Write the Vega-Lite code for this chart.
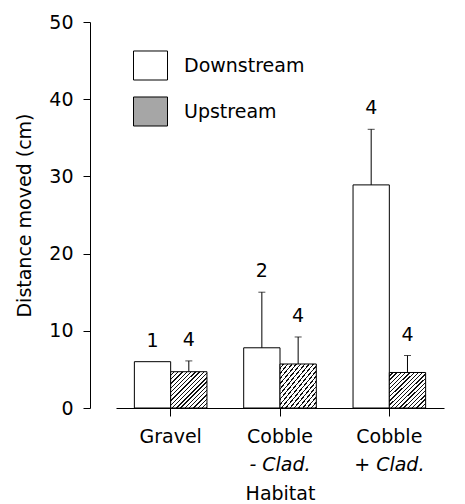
{
  "$schema": "https://vega.github.io/schema/vega-lite/v6.json",
  "autosize": "none",
  "width": 328,
  "height": 386,
  "padding": {"left": 116, "top": 22, "right": 21, "bottom": 96},
  "background": "white",
  "config": {
    "font": "DejaVu Sans",
    "view": {"stroke": null},
    "axis": {"grid": false, "domainColor": "black", "tickColor": "black", "labelColor": "black", "titleColor": "black", "labelFont": "DejaVu Sans", "titleFont": "DejaVu Sans", "labelFontSize": 19, "titleFontSize": 19, "titleFontWeight": "normal", "domainWidth": 1, "tickWidth": 1},
    "legend": {"orient": "none", "legendX": 17, "legendY": 26, "padding": 0, "symbolType": "M-1,-0.853H1V0.853H-1Z", "symbolSize": 1156, "symbolStrokeColor": "black", "symbolStrokeWidth": 1, "rowPadding": 11, "labelOffset": 16, "labelFont": "DejaVu Sans", "labelFontSize": 19, "labelColor": "black"}
  },
  "data": {"values": [
    {"habitat": "Gravel", "dir": "Downstream", "mean": 6.0, "upper": null, "n": 1},
    {"habitat": "Gravel", "dir": "Upstream", "mean": 4.7, "upper": 6.1, "n": 4},
    {"habitat": "Cobble - Clad.", "dir": "Downstream", "mean": 7.8, "upper": 15.0, "n": 2},
    {"habitat": "Cobble - Clad.", "dir": "Upstream", "mean": 5.7, "upper": 9.2, "n": 4},
    {"habitat": "Cobble + Clad.", "dir": "Downstream", "mean": 28.9, "upper": 36.1, "n": 4},
    {"habitat": "Cobble + Clad.", "dir": "Upstream", "mean": 4.6, "upper": 6.8, "n": 4}
  ]},
  "resolve": {"axis": {"x": "independent", "y": "independent"}},
  "layer": [
    {
      "mark": {"type": "bar", "stroke": "black", "strokeWidth": 1},
      "encoding": {
        "x": {"field": "habitat", "type": "nominal", "sort": ["Gravel", "Cobble - Clad.", "Cobble + Clad."],
          "scale": {"paddingInner": 0.336, "paddingOuter": 0.168},
          "axis": {"orient": "bottom", "title": null, "labelAngle": 0, "tickSize": 8, "labelPadding": 11, "labelExpr": "split(datum.value, ' ')[0]"}},
        "xOffset": {"field": "dir", "type": "nominal", "sort": ["Downstream", "Upstream"], "scale": {"paddingInner": 0, "paddingOuter": 0}},
        "y": {"field": "mean", "type": "quantitative", "scale": {"domain": [0, 50], "nice": false},
          "axis": {"values": [0, 10, 20, 30, 40, 50], "tickSize": 7, "labelPadding": 10, "offset": 26, "title": "Distance moved (cm)", "titlePadding": 14}},
        "fill": {"field": "dir", "type": "nominal",
          "scale": {"domain": ["Downstream", "Upstream"], "range": ["white", "#a6a6a6"]},
          "condition": {"test": "datum.dir === 'Upstream'", "value": {"gradient": "linear", "x1": 0, "y1": 0, "x2": 1, "y2": 1, "stops": [
            {"offset": 0, "color": "#fff"}, {"offset": 0.04, "color": "#fff"}, {"offset": 0.04, "color": "#111"}, {"offset": 0.0588, "color": "#111"},
            {"offset": 0.0588, "color": "#fff"}, {"offset": 0.0988, "color": "#fff"}, {"offset": 0.0988, "color": "#111"}, {"offset": 0.1176, "color": "#111"},
            {"offset": 0.1176, "color": "#fff"}, {"offset": 0.1576, "color": "#fff"}, {"offset": 0.1576, "color": "#111"}, {"offset": 0.1765, "color": "#111"},
            {"offset": 0.1765, "color": "#fff"}, {"offset": 0.2165, "color": "#fff"}, {"offset": 0.2165, "color": "#111"}, {"offset": 0.2353, "color": "#111"},
            {"offset": 0.2353, "color": "#fff"}, {"offset": 0.2753, "color": "#fff"}, {"offset": 0.2753, "color": "#111"}, {"offset": 0.2941, "color": "#111"},
            {"offset": 0.2941, "color": "#fff"}, {"offset": 0.3341, "color": "#fff"}, {"offset": 0.3341, "color": "#111"}, {"offset": 0.3529, "color": "#111"},
            {"offset": 0.3529, "color": "#fff"}, {"offset": 0.3929, "color": "#fff"}, {"offset": 0.3929, "color": "#111"}, {"offset": 0.4118, "color": "#111"},
            {"offset": 0.4118, "color": "#fff"}, {"offset": 0.4518, "color": "#fff"}, {"offset": 0.4518, "color": "#111"}, {"offset": 0.4706, "color": "#111"},
            {"offset": 0.4706, "color": "#fff"}, {"offset": 0.5106, "color": "#fff"}, {"offset": 0.5106, "color": "#111"}, {"offset": 0.5294, "color": "#111"},
            {"offset": 0.5294, "color": "#fff"}, {"offset": 0.5694, "color": "#fff"}, {"offset": 0.5694, "color": "#111"}, {"offset": 0.5882, "color": "#111"},
            {"offset": 0.5882, "color": "#fff"}, {"offset": 0.6282, "color": "#fff"}, {"offset": 0.6282, "color": "#111"}, {"offset": 0.6471, "color": "#111"},
            {"offset": 0.6471, "color": "#fff"}, {"offset": 0.6871, "color": "#fff"}, {"offset": 0.6871, "color": "#111"}, {"offset": 0.7059, "color": "#111"},
            {"offset": 0.7059, "color": "#fff"}, {"offset": 0.7459, "color": "#fff"}, {"offset": 0.7459, "color": "#111"}, {"offset": 0.7647, "color": "#111"},
            {"offset": 0.7647, "color": "#fff"}, {"offset": 0.8047, "color": "#fff"}, {"offset": 0.8047, "color": "#111"}, {"offset": 0.8235, "color": "#111"},
            {"offset": 0.8235, "color": "#fff"}, {"offset": 0.8635, "color": "#fff"}, {"offset": 0.8635, "color": "#111"}, {"offset": 0.8824, "color": "#111"},
            {"offset": 0.8824, "color": "#fff"}, {"offset": 0.9224, "color": "#fff"}, {"offset": 0.9224, "color": "#111"}, {"offset": 0.9412, "color": "#111"},
            {"offset": 0.9412, "color": "#fff"}, {"offset": 0.9812, "color": "#fff"}, {"offset": 0.9812, "color": "#111"}, {"offset": 1, "color": "#111"}
          ]}},
          "legend": {"title": null, "encode": {"symbols": {"update": {
            "stroke": {"value": "black"}, "strokeWidth": {"value": 1}, "opacity": {"value": 1}, "fillOpacity": {"value": 1}}}}}
        }
      }
    },
    {
      "transform": [{"filter": "datum.upper != null"}],
      "mark": {"type": "rule", "color": "black", "strokeWidth": 1},
      "encoding": {
        "x": {"field": "habitat", "type": "nominal", "sort": ["Gravel", "Cobble - Clad.", "Cobble + Clad."],
          "axis": {"orient": "bottom", "domain": false, "ticks": false, "tickSize": 0, "labelAngle": 0, "labelPadding": 47, "labelFontStyle": "italic", "labelExpr": "slice(datum.value, 7)", "title": "Habitat", "titlePadding": 10}},
        "xOffset": {"field": "dir", "type": "nominal", "sort": ["Downstream", "Upstream"]},
        "y": {"field": "mean", "type": "quantitative",
          "axis": {"values": [5, 15, 25, 35, 45], "tickSize": 4, "labels": false, "domain": false, "offset": 26, "title": null}},
        "y2": {"field": "upper"}
      }
    },
    {
      "transform": [{"filter": "datum.upper != null"}],
      "mark": {"type": "tick", "orient": "horizontal", "color": "black", "size": 7, "thickness": 1},
      "encoding": {
        "x": {"field": "habitat", "type": "nominal", "sort": ["Gravel", "Cobble - Clad.", "Cobble + Clad."], "axis": null},
        "xOffset": {"field": "dir", "type": "nominal", "sort": ["Downstream", "Upstream"]},
        "y": {"field": "upper", "type": "quantitative", "axis": null}
      }
    },
    {
      "transform": [{"calculate": "datum.upper != null ? datum.upper : datum.mean", "as": "top"}],
      "mark": {"type": "text", "fontSize": 19, "font": "DejaVu Sans", "color": "black", "dy": -21, "baseline": "middle"},
      "encoding": {
        "x": {"field": "habitat", "type": "nominal", "sort": ["Gravel", "Cobble - Clad.", "Cobble + Clad."], "axis": null},
        "xOffset": {"field": "dir", "type": "nominal", "sort": ["Downstream", "Upstream"]},
        "y": {"field": "top", "type": "quantitative", "axis": null},
        "text": {"field": "n", "type": "quantitative"}
      }
    }
  ]
}
